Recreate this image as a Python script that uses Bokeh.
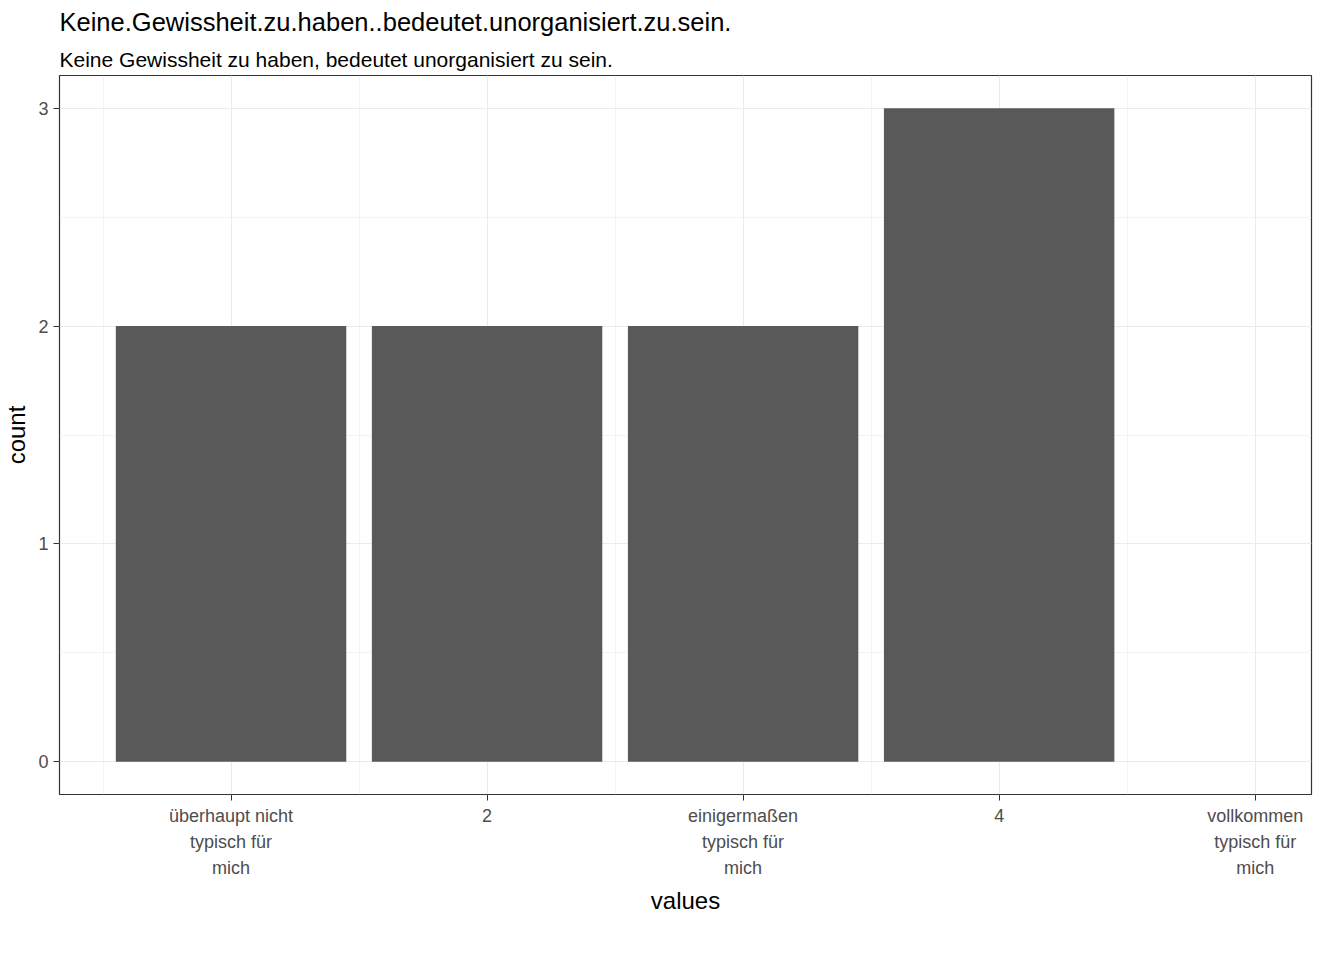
from bokeh.plotting import figure
from bokeh.models import FixedTicker, Title, Range1d
from bokeh.embed import file_html
from bokeh.resources import INLINE

categories = ["überhaupt nicht\ntypisch für\nmich", "2", "einigermaßen\ntypisch für\nmich", "4",
              "vollkommen\ntypisch für\nmich"]
positions = [1, 2, 3, 4, 5]
counts = [2, 2, 2, 3, 0]

p = figure(frame_width=1252, frame_height=719, output_backend="svg", toolbar_location=None,
           x_range=Range1d(0.33, 5.22), y_range=Range1d(-0.15, 3.15),
           min_border_left=29, min_border_right=7, min_border_bottom=10, min_border_top=18)

p.vbar(x=positions[:4], top=counts[:4], width=0.9, fill_color="#595959", line_color=None)

p.add_layout(Title(text="Keine Gewissheit zu haben, bedeutet unorganisiert zu sein.",
                   text_font_size="21px", text_font_style="normal", text_font="Liberation Sans",
                   text_color="black", offset=0), "above")
p.add_layout(Title(text="Keine.Gewissheit.zu.haben..bedeutet.unorganisiert.zu.sein.",
                   text_font_size="25.5px", text_font_style="normal", text_font="Liberation Sans",
                   text_color="black"), "above")

p.xaxis.ticker = FixedTicker(ticks=positions, minor_ticks=[0.5, 1.5, 2.5, 3.5, 4.5, 5.5])
p.xaxis.major_label_overrides = {i: c for i, c in zip(positions, categories)}
p.yaxis.ticker = FixedTicker(ticks=[0, 1, 2, 3], minor_ticks=[0.5, 1.5, 2.5])

for ax in (p.xaxis, p.yaxis):
    ax.major_label_text_font = "Liberation Sans"
    ax.major_label_text_font_size = "18px"
    ax.major_label_text_color = "#4d4d4d"
    ax.axis_label_text_font = "Liberation Sans"
    ax.axis_label_text_font_size = "24px"
    ax.axis_label_text_font_style = "normal"
    ax.axis_label_text_color = "black"
    ax.minor_tick_line_color = None
    ax.major_tick_in = 0
    ax.major_tick_out = 6
    ax.major_tick_line_color = "#333333"
    ax.axis_line_color = None
p.xaxis.axis_label = "values"
p.yaxis.axis_label = "count"
p.xaxis.major_label_text_line_height = 1.3
p.xaxis.axis_label_standoff = 6

p.xgrid.grid_line_color = "#ebebeb"
p.ygrid.grid_line_color = "#ebebeb"
p.xgrid.minor_grid_line_color = "#ebebeb"
p.ygrid.minor_grid_line_color = "#ebebeb"
p.xgrid.minor_grid_line_width = 0.6
p.ygrid.minor_grid_line_width = 0.6
p.outline_line_color = "#333333"
p.outline_line_width = 1.2

open("out.html", "w").write(file_html(p, INLINE))
